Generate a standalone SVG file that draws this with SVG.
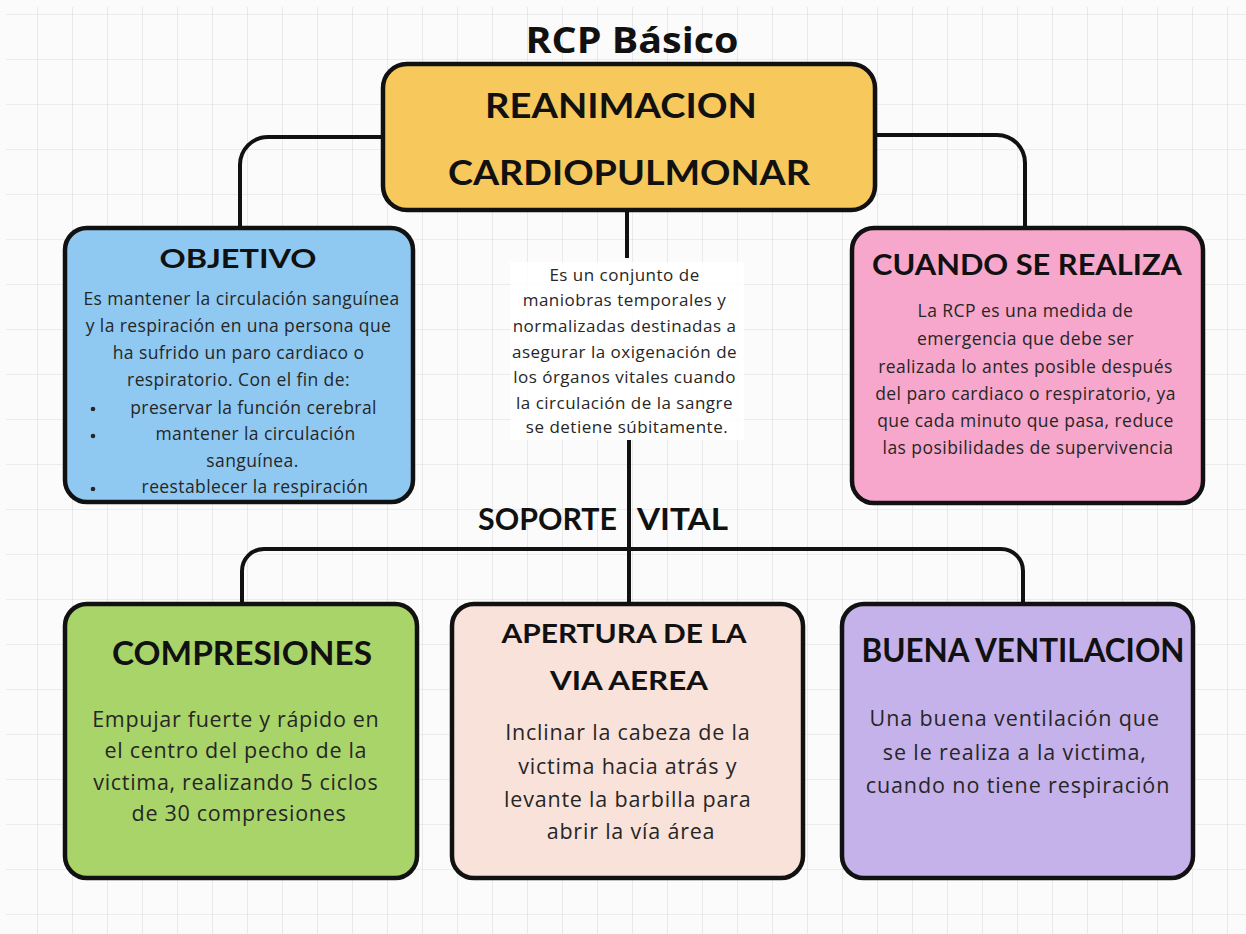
<svg xmlns="http://www.w3.org/2000/svg" width="1246" height="934" viewBox="0 0 1246 934">
<defs>
<pattern id="grid" x="2" y="14" width="35" height="45" patternUnits="userSpaceOnUse">
<path d="M0 0 H35 M0 0 V45" fill="none" stroke="#dedede" stroke-width="1.2"/>
</pattern>
<style>
.box{stroke:#111;stroke-width:4.5}
.conn{fill:none;stroke:#111;stroke-width:4}
.ttl{font-family:"Lato","Noto Sans",sans-serif;font-weight:700;fill:#111;text-anchor:middle}
.body{font-family:"Open Sans","Noto Sans",sans-serif;fill:#262626;text-anchor:middle}
</style>
</defs>
<rect width="1246" height="934" fill="#fbfbfb"/>
<rect x="6" y="7" width="1240" height="927" fill="url(#grid)"/>

<text x="632" y="53" font-family="'Open Sans','Noto Sans',sans-serif" font-weight="700" font-size="36" fill="#111" text-anchor="middle" textLength="213" lengthAdjust="spacingAndGlyphs">RCP Básico</text>

<g id="connectors">
<path class="conn" d="M383 137 H268 A28 28 0 0 0 240 165 V228"/>
<path class="conn" d="M875 135 H997 A28 28 0 0 1 1025 163 V227"/>
<path class="conn" d="M627 210 V258"/>
<path class="conn" d="M629 440 V603"/>
<path class="conn" d="M242 603 V571 A22 22 0 0 1 264 549 H1001 A22 22 0 0 1 1023 571 V603"/>
</g>

<g id="main">
<rect class="box" x="383" y="64" width="492" height="146" rx="24" fill="#F7C85C"/>
<text class="ttl" x="621" y="118" font-size="35" textLength="272" lengthAdjust="spacingAndGlyphs">REANIMACION</text>
<text class="ttl" x="629" y="185" font-size="35" textLength="362" lengthAdjust="spacingAndGlyphs">CARDIOPULMONAR</text>
</g>

<g id="definicion">
<rect x="510" y="262" width="234" height="178" fill="#ffffff" opacity="0.85"/>
<text class="body" font-size="17" letter-spacing="0.5">
<tspan x="627" y="281">Es un conjunto de</tspan>
<tspan x="627" y="306">maniobras temporales y</tspan>
<tspan x="627" y="332">normalizadas destinadas a</tspan>
<tspan x="627" y="358">asegurar la oxigenación de</tspan>
<tspan x="627" y="383">los órganos vitales cuando</tspan>
<tspan x="627" y="409">la circulación de la sangre</tspan>
<tspan x="627" y="433">se detiene súbitamente.</tspan>
</text>
</g>

<g id="objetivo">
<rect class="box" x="65" y="228" width="348" height="274" rx="22" fill="#8FC9F2"/>
<text class="ttl" x="238" y="268" font-size="26" textLength="157" lengthAdjust="spacingAndGlyphs">OBJETIVO</text>
<text class="body" font-size="17.5" letter-spacing="0.4">
<tspan x="244" y="305">Es mantener la circulación sanguínea</tspan>
<tspan x="241" y="332">y la respiración en una persona que</tspan>
<tspan x="241" y="359">ha sufrido un paro cardiaco o</tspan>
<tspan x="241" y="386">respiratorio. Con el fin de:</tspan>
<tspan x="256" y="414">preservar la función cerebral</tspan>
<tspan x="258" y="440">mantener la circulación</tspan>
<tspan x="255" y="467">sanguínea.</tspan>
<tspan x="255" y="493">reestablecer la respiración</tspan>
</text>
<circle cx="93" cy="409" r="2.3" fill="#262626"/>
<circle cx="93" cy="436" r="2.3" fill="#262626"/>
<circle cx="93" cy="489" r="2.3" fill="#262626"/>
</g>

<g id="cuando">
<rect class="box" x="852" y="228" width="351" height="275" rx="22" fill="#F7A7CB"/>
<text class="ttl" x="1027" y="275" font-size="28" textLength="310" lengthAdjust="spacingAndGlyphs">CUANDO SE REALIZA</text>
<text class="body" font-size="17.5" letter-spacing="0.45">
<tspan x="1028" y="317">La RCP es una medida de</tspan>
<tspan x="1028" y="345">emergencia que debe ser</tspan>
<tspan x="1028" y="373">realizada lo antes posible después</tspan>
<tspan x="1028" y="400">del paro cardiaco o respiratorio, ya</tspan>
<tspan x="1028" y="427">que cada minuto que pasa, reduce</tspan>
<tspan x="1028" y="454">las posibilidades de supervivencia</tspan>
</text>
</g>

<g id="soporte-vital">
<text class="ttl" x="547.5" y="530" font-size="30" textLength="139" lengthAdjust="spacingAndGlyphs">SOPORTE</text>
<text class="ttl" x="682.5" y="530" font-size="30" textLength="91" lengthAdjust="spacingAndGlyphs">VITAL</text>
</g>

<g id="compresiones">
<rect class="box" x="65" y="604" width="352" height="274" rx="22" fill="#A9D46A"/>
<text class="ttl" x="242" y="665" font-size="32" textLength="260" lengthAdjust="spacingAndGlyphs">COMPRESIONES</text>
<text class="body" font-size="21.5" letter-spacing="0.7">
<tspan x="239" y="727">Empujar fuerte y rápido en</tspan>
<tspan x="239" y="758">el centro del pecho de la</tspan>
<tspan x="239" y="790">victima, realizando 5 ciclos</tspan>
<tspan x="239" y="821">de 30 compresiones</tspan>
</text>
</g>

<g id="apertura">
<rect class="box" x="452" y="604" width="351" height="274" rx="22" fill="#F9E2DA"/>
<text class="ttl" x="624" y="643" font-size="26" textLength="245" lengthAdjust="spacingAndGlyphs">APERTURA DE LA</text>
<text class="ttl" x="629" y="690" font-size="26" textLength="158" lengthAdjust="spacingAndGlyphs">VIA AEREA</text>
<text class="body" font-size="21.5" letter-spacing="0.8">
<tspan x="631" y="740">Inclinar la cabeza de la</tspan>
<tspan x="631" y="774">victima hacia atrás y</tspan>
<tspan x="631" y="807">levante la barbilla para</tspan>
<tspan x="631" y="839">abrir la vía área</tspan>
</text>
</g>

<g id="ventilacion">
<rect class="box" x="842" y="604" width="351" height="274" rx="22" fill="#C6B2EB"/>
<text class="ttl" x="1023" y="662" font-size="32" textLength="323" lengthAdjust="spacingAndGlyphs">BUENA VENTILACION</text>
<text class="body" font-size="21.5" letter-spacing="0.9">
<tspan x="1018" y="726">Una buena ventilación que</tspan>
<tspan x="1018" y="760">se le realiza a la victima,</tspan>
<tspan x="1018" y="793">cuando no tiene respiración</tspan>
</text>
</g>
</svg>
